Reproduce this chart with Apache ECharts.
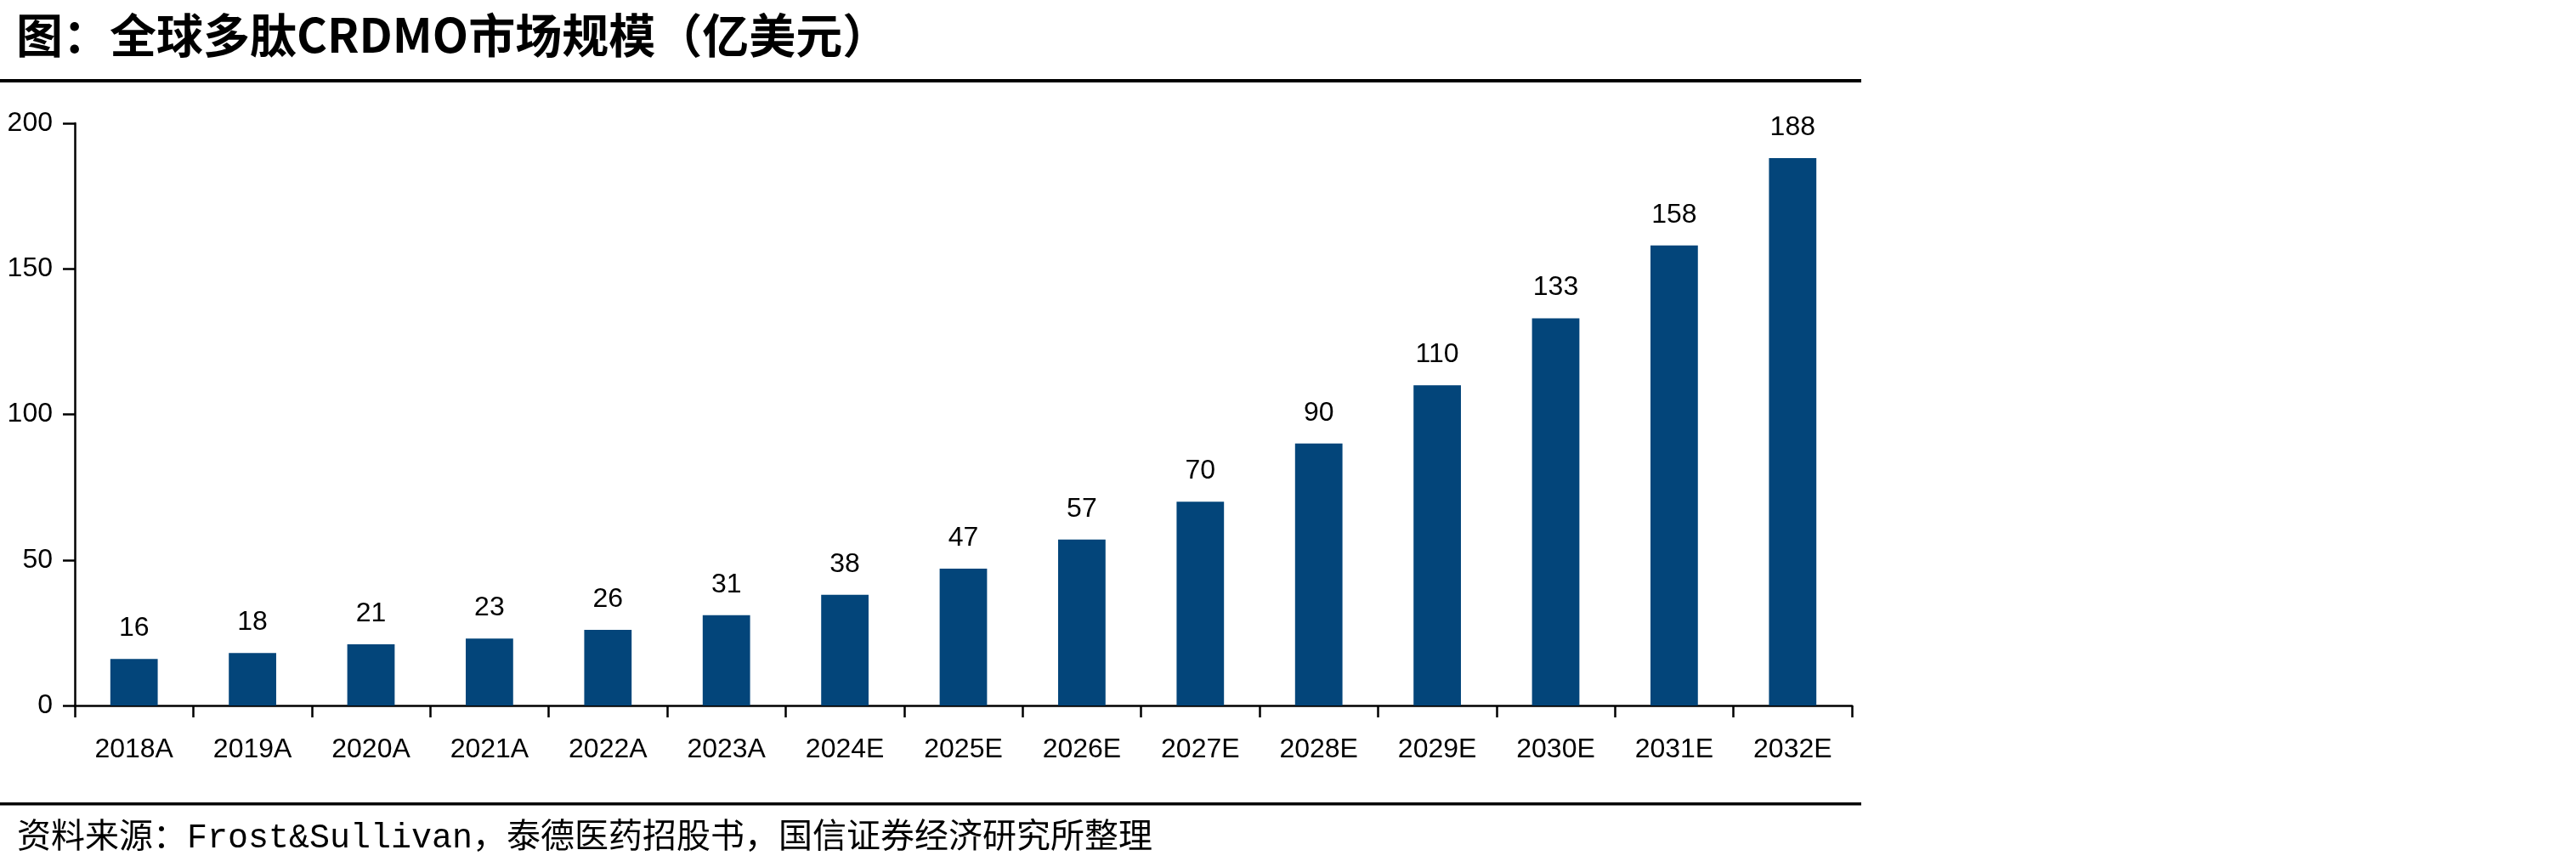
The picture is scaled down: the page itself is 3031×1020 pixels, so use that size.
<!DOCTYPE html>
<html>
<head>
<meta charset="utf-8">
<title>全球多肽CRDMO市场规模</title>
<script src="https://cdn.jsdelivr.net/npm/echarts@6/dist/echarts.min.js"></script>
<style>
  html, body { margin: 0; padding: 0; background: #fff; }
  #chart { width: 3031px; height: 1020px; }
</style>
</head>
<body>
<div id="chart"></div>
<script>
// categories and values
const years = ['2018A', '2019A', '2020A', '2021A', '2022A', '2023A', '2024E', '2025E',
  '2026E', '2027E', '2028E', '2029E', '2030E', '2031E', '2032E']
const marketSize = [16, 18, 21, 23, 26, 31, 38, 47, 57, 70, 90, 110, 133, 158, 188]
const yTicks = [0, 50, 100, 150, 200]

const titleText = '图：全球多肽CRDMO市场规模（亿美元）'
const sourceText = '资料来源：Frost&Sullivan，泰德医药招股书，国信证券经济研究所整理'

const chart = echarts.init(document.getElementById('chart'), null, { renderer: 'canvas' })

const option = {
  backgroundColor: '#fff',
  animation: false,
  grid: {
    left: 88,
    right: 852,
    top: 145,
    bottom: 190,
    containLabel: false
  },
  xAxis: {
    type: 'category',
    data: years,
    boundaryGap: true,
    axisLine: { lineStyle: { color: '#000', width: 2.5 } },
    axisTick: { show: true, length: 14, lineStyle: { color: '#000', width: 2.5 } },
    axisLabel: {
      color: '#000',
      fontSize: 32,
      fontFamily: 'Liberation Sans, Arial',
      margin: 36
    }
  },
  yAxis: {
    type: 'value',
    min: yTicks[0],
    max: yTicks[yTicks.length - 1],
    interval: 50,
    splitLine: { show: false },
    axisLine: { show: true, lineStyle: { color: '#000', width: 2.5 } },
    axisTick: { show: true, length: 14, lineStyle: { color: '#000', width: 2.5 } },
    axisLabel: {
      color: '#000',
      fontSize: 32,
      fontFamily: 'Liberation Sans, Arial',
      margin: 26
    }
  },
  series: [
    {
      type: 'bar',
      data: marketSize,
      barCategoryGap: '60%',
      itemStyle: { color: '#03457a' },
      label: {
        show: true,
        position: 'top',
        distance: 20,
        color: '#000',
        fontSize: 32,
        fontFamily: 'Liberation Sans, Arial'
      }
    }
  ],
  graphic: [
    {
      type: 'text',
      left: 19,
      top: 14,
      style: {
        text: titleText,
        fill: '#000',
        font: 'bold 55px "Noto Sans CJK SC"'
      }
    },
    {
      type: 'rect',
      shape: { x: 0, y: 93, width: 2190, height: 4 },
      style: { fill: '#000' }
    },
    {
      type: 'rect',
      shape: { x: 0, y: 944, width: 2190, height: 3.5 },
      style: { fill: '#000' }
    },
    {
      type: 'text',
      left: 20,
      top: 966,
      style: {
        text: sourceText,
        fill: '#000',
        font: '40px "Liberation Mono", "Noto Sans CJK SC"'
      }
    }
  ]
}

chart.setOption(option)
</script>
</body>
</html>
